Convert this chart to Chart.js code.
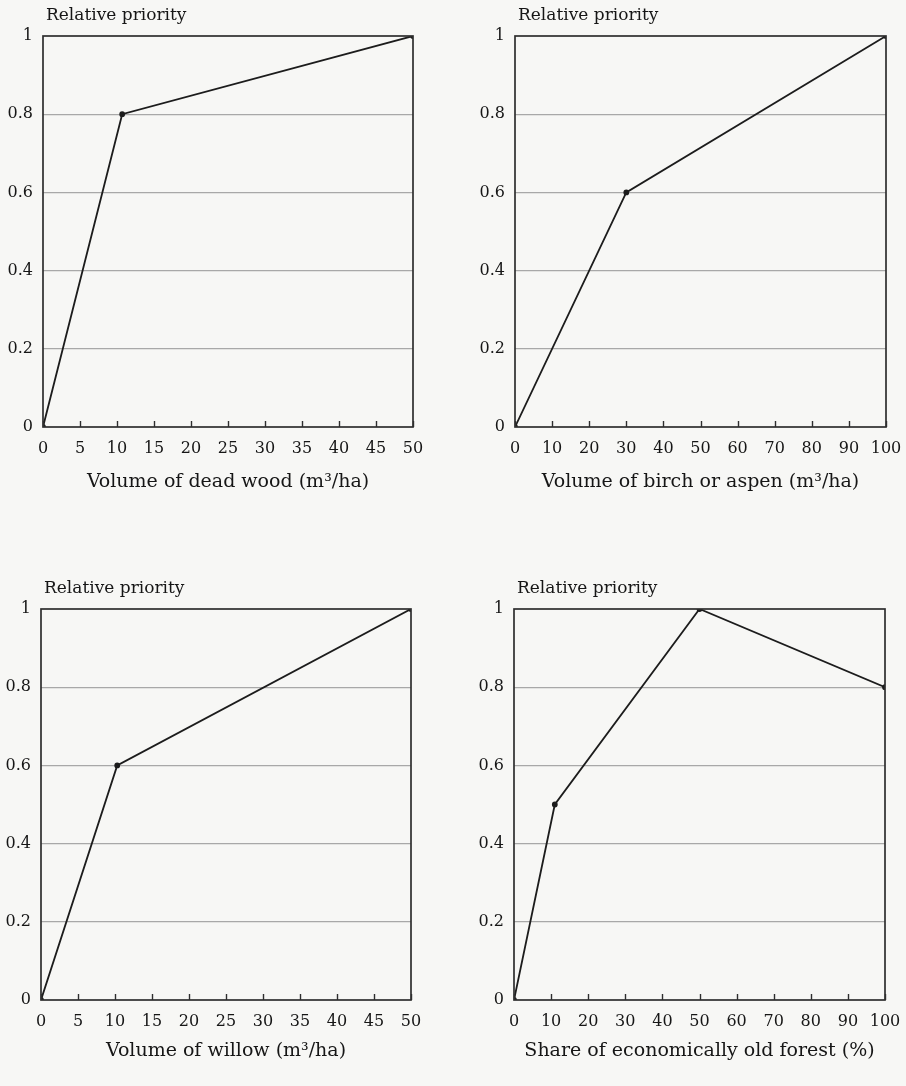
<!DOCTYPE html>
<html>
<head>
<meta charset="utf-8">
<script src="https://cdn.jsdelivr.net/npm/chart.js@4.4.1/dist/chart.umd.min.js"></script>
<style>
  html, body { margin: 0; padding: 0; background: #f7f7f5; }
  #wrap { position: relative; width: 906px; height: 1086px; overflow: hidden; }
  .cell { position: absolute; width: 453px; height: 543px; }
  .cell canvas { display: block; }
</style>
</head>
<body>
<div id="wrap">
  <div class="cell" style="left:0;top:0"><canvas id="c1" width="453" height="543"></canvas></div>
  <div class="cell" style="left:453px;top:0"><canvas id="c2" width="453" height="543"></canvas></div>
  <div class="cell" style="left:0;top:543px"><canvas id="c3" width="453" height="543"></canvas></div>
  <div class="cell" style="left:453px;top:543px"><canvas id="c4" width="453" height="543"></canvas></div>
</div>
<script>
// ---- Data ----
const yAxisLabel = "Relative priority";

const deadWoodX = [0, 10.7, 50];
const deadWoodY = [0, 0.8, 1];

const birchAspenX = [0, 30, 100];
const birchAspenY = [0, 0.6, 1];

const willowX = [0, 10.3, 50];
const willowY = [0, 0.6, 1];

const oldForestX = [0, 11, 50, 100];
const oldForestY = [0, 0.5, 1, 0.8];

const xTitles = [
  "Volume of dead wood (m\u00B3/ha)",
  "Volume of birch or aspen (m\u00B3/ha)",
  "Volume of willow (m\u00B3/ha)",
  "Share of economically old forest (%)"
];
const xMax = [50, 100, 50, 100];
const xStep = [5, 10, 5, 10];
const yTickValues = [0, 0.2, 0.4, 0.6, 0.8, 1];

// ---- Styling ----
const SERIF = "'DejaVu Serif', 'Liberation Serif', serif";
const INK = "#161616";

const framePlugin = {
  id: 'frame',
  afterDraw(chart) {
    const { ctx, chartArea: a } = chart;
    const xs = chart.scales.x;
    ctx.save();
    ctx.strokeStyle = "#2e2e2e";
    ctx.lineWidth = 1.7;
    ctx.strokeRect(a.left, a.top, a.right - a.left, a.bottom - a.top);
    ctx.lineWidth = 1.4;
    xs.ticks.forEach(t => {
      const px = Math.round(xs.getPixelForValue(t.value)) + 0.5;
      ctx.beginPath();
      ctx.moveTo(px, a.bottom);
      ctx.lineTo(px, a.bottom - 6);
      ctx.stroke();
    });
    ctx.fillStyle = INK;
    ctx.font = "17px " + SERIF;
    ctx.textAlign = "left";
    ctx.textBaseline = "alphabetic";
    ctx.fillText(yAxisLabel, a.left + 3, a.top - 16);
    ctx.restore();
  }
};

function makeChart(id, idx, xData, yData, layout) {
  const pts = xData.map((x, i) => ({ x: x, y: yData[i] }));
  return new Chart(document.getElementById(id), {
    type: 'scatter',
    data: {
      datasets: [{
        data: pts,
        showLine: true,
        borderColor: "#1c1c1c",
        backgroundColor: "#1c1c1c",
        borderWidth: 1.8,
        pointRadius: 2,
        pointHoverRadius: 2,
        tension: 0
      }]
    },
    options: {
      responsive: false,
      animation: false,
      devicePixelRatio: 1,
      plugins: { legend: { display: false }, tooltip: { enabled: false } },
      layout: { padding: { left: 0, right: layout.right, top: layout.top, bottom: layout.bottom } },
      scales: {
        x: {
          type: 'linear',
          min: 0, max: xMax[idx],
          afterFit(s) { s.height = layout.xh; s.paddingLeft = 0; s.paddingRight = 0; },
          border: { display: false },
          grid: { display: false, drawTicks: false },
          ticks: {
            stepSize: xStep[idx],
            padding: 12,
            color: INK,
            font: { family: SERIF, size: 16 },
            maxRotation: 0,
            autoSkip: false
          },
          title: {
            display: true,
            text: xTitles[idx],
            color: INK,
            font: { family: SERIF, size: 19 },
            padding: { top: 0, bottom: 0 }
          }
        },
        y: {
          type: 'linear',
          min: 0, max: 1,
          afterFit(s) { s.width = layout.yw; s.paddingTop = 0; s.paddingBottom = 0; },
          afterBuildTicks(s) { s.ticks = yTickValues.map(v => ({ value: v })); },
          border: { display: false },
          grid: {
            drawTicks: false,
            color: (c) => (c.tick && (c.tick.value === 0 || c.tick.value === 1)) ? 'rgba(0,0,0,0)' : '#a8a8a8',
            lineWidth: 1.2
          },
          ticks: {
            padding: 10,
            autoSkip: false,
            color: INK,
            font: { family: SERIF, size: 16 },
            callback: (v) => String(Math.round(v * 10) / 10)
          }
        }
      }
    },
    plugins: [framePlugin]
  });
}

makeChart('c1', 0, deadWoodX, deadWoodY, { yw: 43, right: 40, top: 36, bottom: 50, xh: 66 });
makeChart('c2', 1, birchAspenX, birchAspenY, { yw: 62, right: 20, top: 36, bottom: 50, xh: 66 });
makeChart('c3', 2, willowX, willowY, { yw: 41, right: 42, top: 66, bottom: 24, xh: 62 });
makeChart('c4', 3, oldForestX, oldForestY, { yw: 61, right: 21, top: 66, bottom: 24, xh: 62 });
</script>
</body>
</html>
